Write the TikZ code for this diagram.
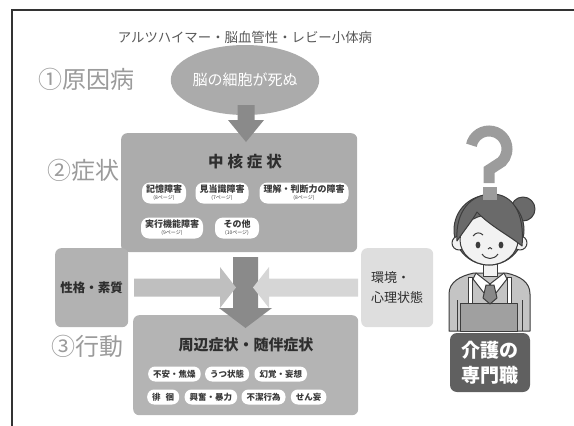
\documentclass[tikz,border=0pt]{standalone}
\usepackage{fontspec}
\setmainfont{Noto Sans CJK JP}
\usetikzlibrary{calc,positioning,shapes.geometric}

\definecolor{frameGray}{HTML}{333333}
\definecolor{labelGray}{HTML}{9B9B9B}
\definecolor{capGray}{HTML}{585858}
\definecolor{ellGray}{HTML}{ABABAB}
\definecolor{arrowDark}{HTML}{8A8A8A}
\definecolor{coreGray}{HTML}{ACACAC}
\definecolor{periGray}{HTML}{B4B4B4}
\definecolor{leftGray}{HTML}{B2B2B2}
\definecolor{rightGray}{HTML}{DEDEDE}
\definecolor{arrowMid}{HTML}{BFBFBF}
\definecolor{arrowLight}{HTML}{D6D6D6}
\definecolor{pillText}{HTML}{3A3A3A}
\definecolor{titleGray}{HTML}{2E2E2E}
\definecolor{qGray}{HTML}{9C9C9C}
\definecolor{hairGray}{HTML}{6A6A6A}
\definecolor{skin}{HTML}{F2F2F2}
\definecolor{shirtGray}{HTML}{C4C4C4}
\definecolor{apronGray}{HTML}{A0A0A0}
\definecolor{lineGray}{HTML}{3C3C3C}
\definecolor{badgeGray}{HTML}{606060}

\tikzset{
  stepText/.style={text=labelGray, inner sep=0pt, font=\fontsize{24}{24}\selectfont},
  grayBox/.style={rounded corners=6pt, inner sep=0pt, anchor=north west},
  boxTitle/.style={text=titleGray, inner sep=0pt, font=\bfseries\fontsize{15.5}{15.5}\selectfont},
  sideText/.style={text=titleGray, font=\bfseries\fontsize{12.5}{20}\selectfont},
  pillTall/.style={fill=white, rounded corners=8pt, minimum height=21pt, minimum width=44pt,
    inner xsep=4pt, inner ysep=1pt, align=center, text=pillText,
    font=\bfseries\fontsize{9}{8}\selectfont},
  pillShort/.style={fill=white, rounded corners=7pt, minimum height=15pt, inner xsep=5pt,
    inner ysep=0pt, text=pillText, font=\bfseries\fontsize{8.5}{8.5}\selectfont},
  figLine/.style={draw=lineGray, line width=1pt, line join=round},
}
\newcommand{\pageNote}[1]{{\mdseries\fontsize{5}{5}\selectfont (#1ページ)}}

\begin{document}
\begin{tikzpicture}[x=1pt,y=-1pt]
\useasboundingbox (0,0) rectangle (574,426);

% 枠線
\draw[frameGray, line width=1.3pt] (574,10) -- (12,10) -- (12,426);

% 見出し
\node[stepText] (nStepA) at (86,79) {①原因病};
\node[stepText] (nStepB) at (84,170) {②症状};
\node[stepText] (nStepC) at (88,346) {③行動};

% 原因病
\node[text=capGray, font=\fontsize{13.4}{13.4}\selectfont] (nDisease) at (245,37)
  {アルツハイマー・脳血管性・レビー小体病};
\node[ellipse, fill=ellGray, minimum width=124pt, minimum height=70pt, inner sep=0pt,
  text=white, font=\fontsize{15}{15}\selectfont] (nCause) at (245,80) {脳の細胞が死ぬ};

% 中核症状
\node[grayBox, fill=coreGray, minimum width=236pt, minimum height=119pt] (nCore) at (121,133) {};
\fill[arrowDark] (237.5,105) -- (254.5,105) -- (254.5,120) -- (264,120) -- (246,142)
  -- (228,120) -- (237.5,120) -- cycle;
\node[boxTitle] (nCoreTitle) at (245,162) {中\hspace{4pt}核\hspace{4pt}症\hspace{4pt}状};

\foreach \nm/\x/\y/\txt/\pg in {pA/164/193/記憶障害/8, pB/222/193/見当識障害/7,
  pC/304/193/理解・判断力の障害/8, pD/172/228/実行機能障害/9, pE/237/228/その他/10}
{
    \node[pillTall] (\nm) at (\x,\y) {\txt\\[-1pt]\pageNote{\pg}};
}

% 性格・素質 と 環境・心理状態
\node[grayBox, fill=leftGray, minimum width=73pt, minimum height=79pt] (nTraitBox) at (55,248) {};
\node[sideText] (nTrait) at (nTraitBox.center) {性格・素質};
\node[grayBox, fill=rightGray, minimum width=72pt, minimum height=79pt] (nEnvBox) at (361,248) {};
\node[sideText, align=left, font=\fontsize{13}{20}\selectfont] (nEnv) at (nEnvBox.center) {環境・\\心理状態};

% 周辺症状・随伴症状
\node[grayBox, fill=periGray, minimum width=225pt, minimum height=100pt] (nPeri) at (133,315) {};
\fill[arrowDark] (233,257) -- (258,257) -- (258,308) -- (272,308) -- (245.5,328)
  -- (219,308) -- (233,308) -- cycle;
\fill[arrowMid] (134,278.5) -- (220,278.5) -- (220,267) -- (236,287.5) -- (220,308)
  -- (220,296.5) -- (134,296.5) -- cycle;
\fill[arrowLight] (358,278.5) -- (269,278.5) -- (269,267) -- (253,287.5) -- (269,308)
  -- (269,296.5) -- (358,296.5) -- cycle;
\node[boxTitle, font=\bfseries\fontsize{15}{15}\selectfont] (nPeriTitle) at (246,345) {周辺症状・随伴症状};

\node[pillShort, anchor=west] (qA) at (148,374) {不安・焦燥};
\node[pillShort, right=4pt of qA] (qB) {うつ状態};
\node[pillShort, right=5pt of qB] (qC) {幻覚・妄想};
\node[pillShort, anchor=west] (qD) at (147,397) {徘\hspace{5pt}徊};
\node[pillShort, right=5pt of qD] (qE) {興奮・暴力};
\node[pillShort, right=4pt of qE] (qF) {不潔行為};
\node[pillShort, right=5pt of qF] (qG) {せん妄};

% 介護の専門職
\draw[qGray, line width=11pt] ($(489,149)+(-168:18)$) arc[start angle=-168, end angle=45, radius=18]
  -- (489,170) -- (489,183);
% 体とエプロン
\draw[figLine, fill=shirtGray] (449,331) -- (449,294) .. controls (449,282) and (460,276) .. (474,273)
  -- (506,273) .. controls (520,276) and (530,282) .. (530,294) -- (530,331) -- cycle;
\draw[figLine] (457,300) -- (457,331) (522,300) -- (522,331);
\draw[figLine, fill=white] (468,277) -- (472,277) -- (472,303) -- (468,303) -- cycle;
\draw[figLine, fill=white] (507,277) -- (511,277) -- (511,303) -- (507,303) -- cycle;
\draw[figLine, fill=apronGray] (460,303) rectangle (517,331);
\draw[figLine, fill=skin] (483,258) rectangle (497,276);
\draw[figLine, fill=white] (476,273) -- (490,284) -- (484,293) -- (473,279) -- cycle;
\draw[figLine, fill=white] (504,273) -- (490,284) -- (496,293) -- (507,279) -- cycle;
\draw[figLine, fill=hairGray!80] (486,285) -- (494,285) -- (497,298) -- (490,304) -- (483,298) -- cycle;
% 頭
\draw[figLine, fill=hairGray] (523,209) circle[radius=12];
\draw[figLine, fill=hairGray] (489,230) circle[radius=35];
\draw[figLine, fill=skin] (459,243) circle[radius=7];
\draw[figLine, fill=skin] (520,243) circle[radius=7];
\draw[figLine, fill=skin] (489,240) ellipse[x radius=29, y radius=25];
\draw[figLine, fill=hairGray] (457,241) .. controls (455,210) and (472,194) .. (492,194)
  .. controls (512,194) and (525,212) .. (522,246) .. controls (510,236) and (490,226) .. (477,212)
  .. controls (472,221) and (466,228) .. (457,241) -- cycle;
\fill[qGray] (483,187) rectangle (497,200);
\fill[lineGray] (478,245) ellipse[x radius=2.4, y radius=3.4];
\fill[lineGray] (501,245) ellipse[x radius=2.4, y radius=3.4];
\draw[figLine] (473,236) .. controls (476,232) and (480,232) .. (483,235);
\draw[figLine] (488,249) .. controls (489,247) and (491,247) .. (492,249);
\draw[figLine] (482,254) .. controls (486,260) and (494,260) .. (498,254);
\node[fill=badgeGray, rounded corners=7pt, minimum width=80pt, minimum height=59pt, inner sep=0pt,
  align=center, text=white, font=\bfseries\fontsize{19}{25}\selectfont] (nCarer) at (490,362.5)
  {介護の\\専門職};
\end{tikzpicture}
\end{document}
